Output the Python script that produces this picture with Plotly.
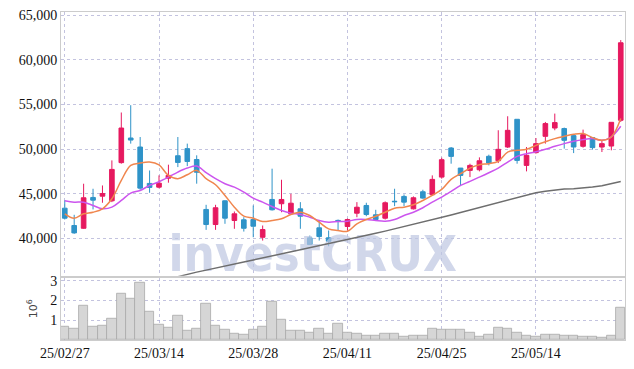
import plotly.graph_objects as go

dates = ["25/02/27", "25/02/28", "25/03/04", "25/03/05", "25/03/06", "25/03/07", "25/03/10", "25/03/11",
         "25/03/12", "25/03/13", "25/03/14", "25/03/17", "25/03/18", "25/03/19", "25/03/20", "25/03/21",
         "25/03/24", "25/03/25", "25/03/26", "25/03/27", "25/03/28", "25/03/31", "25/04/01", "25/04/02",
         "25/04/03", "25/04/04", "25/04/07", "25/04/08", "25/04/09", "25/04/10", "25/04/11", "25/04/14",
         "25/04/15", "25/04/16", "25/04/17", "25/04/18", "25/04/21", "25/04/22", "25/04/23", "25/04/24",
         "25/04/25", "25/04/28", "25/04/29", "25/04/30", "25/05/02", "25/05/07", "25/05/08", "25/05/09",
         "25/05/12", "25/05/13", "25/05/14", "25/05/15", "25/05/16", "25/05/19", "25/05/20", "25/05/21",
         "25/05/22", "25/05/23", "25/05/26", "25/05/27"]

open_ = [43370, 41430, 41120, 44575, 44720, 44200, 48480, 51240, 50230, 46150,
         45730, 46740, 49250, 50050, 48830, 43230, 41540, 44200, 41990, 42070,
         42100, 40110, 44350, 43870, 42740, 43300, 40045, 41170, 40050, 42000,
         41320, 42810, 43675, 42630, 42250, 44150, 44690, 43300, 45215, 44880,
         46860, 50120, 47870, 47610, 47680, 49190, 48690, 50230, 53340, 48170,
         49600, 51430, 52360, 52300, 51510, 50310, 51290, 50230, 50340, 53230]
high = [44240, 42630, 46115, 45550, 45920, 48730, 54100, 54920, 51350, 47600,
        47050, 48250, 51350, 50610, 49300, 43750, 43750, 44240, 43000, 42360,
        43680, 41430, 47800, 46560, 44990, 44050, 40300, 41990, 40870, 42100,
        42210, 44050, 43980, 43190, 44130, 45550, 44910, 44690, 45440, 47050,
        49040, 50230, 47870, 48360, 49070, 49370, 52110, 53680, 53340, 50230,
        51240, 53040, 53980, 52410, 51510, 52180, 51300, 50980, 53000, 62220]
low = [42100, 40500, 41060, 43230, 43980, 44050, 48360, 50610, 45440, 45100,
       45600, 46230, 47980, 48090, 46120, 40940, 40940, 41620, 41060, 40750,
       40110, 39740, 43110, 42920, 42660, 41060, 39250, 39740, 39100, 40870,
       40870, 42360, 42470, 41990, 42100, 43600, 43600, 43230, 44430, 44800,
       46680, 48360, 45850, 46860, 47500, 48170, 48430, 50120, 48360, 47500,
       49490, 50610, 52110, 50050, 49550, 50160, 49940, 49670, 49860, 53040]
close = [42250, 40600, 44540, 44270, 45020, 47720, 52360, 51010, 45620, 45700,
         46180, 47050, 48500, 48610, 47400, 41540, 43420, 42250, 42740, 41120,
         41350, 40980, 43190, 44350, 43930, 42470, 39290, 40190, 39660, 41950,
         42100, 43480, 42660, 42100, 43980, 44100, 44050, 44540, 44500, 46600,
         48810, 49180, 47050, 48170, 48690, 48430, 49970, 52100, 48730, 49300,
         50610, 52860, 52970, 50980, 50230, 51620, 50160, 50610, 53000, 61920]

ma_short = [42743, 42248, 42743, 42922, 43305, 44429, 46485, 48171, 48430, 48542,
            48216, 47047, 46677, 47126, 47609, 46677, 46002, 44799, 43484, 42473,
            42248, 41877, 41989, 42181, 42664, 42922, 42551, 41798, 41057, 40865,
            40787, 41619, 42102, 42473, 42922, 43372, 43484, 43754, 44237, 44799,
            45474, 46598, 47239, 47868, 48250, 48363, 48621, 49666, 49857, 49970,
            50419, 50813, 51173, 51431, 51656, 51735, 51285, 50981, 51352, 53421]
ma_mid = [44204, 44046, 44046, 43675, 43305, 43484, 44237, 45058, 45361, 45923,
          46339, 46856, 47418, 47868, 48093, 47351, 46677, 46115, 45732, 45170,
          44496, 44046, 43563, 43113, 42810, 42664, 42360, 41989, 41798, 41877,
          41911, 42102, 42102, 41989, 41911, 42102, 42551, 42922, 43417, 44046,
          44608, 45249, 45923, 46373, 46856, 47351, 47868, 48542, 49183, 49487,
          49689, 49970, 50307, 50611, 50869, 51060, 51173, 50981, 51375, 52555]
ma_long = [None] * 12 + [
    35695, 35976, 36201, 36426, 36670, 36909, 37133, 37347,
    37561, 37786, 38011, 38235, 38460, 38674, 38898, 39134, 39371, 39607,
    39831, 40079, 40315, 40551, 40798, 41045, 41293, 41540, 41798, 42057,
    42327, 42608, 42889, 43170, 43451, 43732, 44013, 44294, 44575, 44856,
    45103, 45272, 45418, 45519, 45564, 45631, 45744, 45890, 46092, 46373]

volume_m = [0.66, 0.56, 1.74, 0.66, 0.70, 1.10, 2.33, 2.08, 2.92, 1.44,
            0.77, 0.61, 1.25, 0.48, 0.56, 1.84, 0.72, 0.51, 0.31, 0.26,
            0.51, 0.66, 1.93, 1.05, 0.48, 0.48, 0.38, 0.56, 0.33, 0.80,
            0.36, 0.31, 0.21, 0.21, 0.31, 0.31, 0.18, 0.21, 0.21, 0.56,
            0.51, 0.51, 0.51, 0.36, 0.16, 0.26, 0.61, 0.56, 0.36, 0.21,
            0.16, 0.26, 0.26, 0.21, 0.21, 0.16, 0.16, 0.11, 0.21, 1.64]

tick_labels = ["25/02/27", "25/03/14", "25/03/28", "25/04/11", "25/04/25", "25/05/14"]

UP = "#e6195f"
DOWN = "#2f93c8"
FONT = "Liberation Sans Narrow"

fig = go.Figure()

# watermark (behind everything)
fig.add_trace(go.Scatter(
    x=[dates[11]], y=[37750], mode="text", text=["investCRUX"], textposition="middle right",
    textfont=dict(family="DejaVu Sans Condensed, DejaVu Sans", size=49,
                  color="rgba(190,198,225,0.7)", weight="bold"),
    hoverinfo="skip", showlegend=False, xaxis="x", yaxis="y"))

fig.add_trace(go.Candlestick(
    x=dates, open=open_, high=high, low=low, close=close,
    increasing=dict(line=dict(color=UP, width=1), fillcolor=UP),
    decreasing=dict(line=dict(color=DOWN, width=1), fillcolor=DOWN),
    whiskerwidth=0, showlegend=False, xaxis="x", yaxis="y"))

fig.add_trace(go.Scatter(x=dates, y=ma_long, mode="lines",
                         line=dict(color="#6e6e6e", width=1.5), showlegend=False,
                         xaxis="x", yaxis="y"))
fig.add_trace(go.Scatter(x=dates, y=ma_mid, mode="lines",
                         line=dict(color="#cc55ee", width=1.5, shape="spline"), showlegend=False,
                         xaxis="x", yaxis="y"))
fig.add_trace(go.Scatter(x=dates, y=ma_short, mode="lines",
                         line=dict(color="#f0864e", width=1.5, shape="spline"), showlegend=False,
                         xaxis="x", yaxis="y"))

fig.add_trace(go.Bar(x=dates, y=volume_m, marker=dict(color="#d6d6d6", line=dict(color="#a8a8a8", width=0.8)),
                     width=1, showlegend=False, xaxis="x2", yaxis="y2"))

grid = "rgba(180,180,215,0.8)"
axis_font = dict(family=FONT, size=14, color="#111111")

# the page body adds an 8px offset, so the figure is 8px smaller on the right/bottom
fig.update_layout(
    width=626, height=361,
    margin=dict(l=53, r=9, t=4, b=29, autoexpand=False),
    paper_bgcolor="white", plot_bgcolor="white",
    showlegend=False,
    xaxis=dict(type="category", categoryorder="array", categoryarray=dates,
               range=[-0.4, 59.45], anchor="y", matches="x2",
               showticklabels=False, tickvals=tick_labels,
               showgrid=True, gridcolor=grid, griddash="dot", gridwidth=1,
               showline=True, linecolor="#cccccc", mirror=True,
               rangeslider=dict(visible=False), ticks=""),
    yaxis=dict(domain=[0.196, 1], range=[35800, 65370], anchor="x",
               tickvals=[40000, 45000, 50000, 55000, 60000, 65000], tickformat=",d",
               showgrid=True, gridcolor=grid, griddash="dot", gridwidth=1,
               showline=True, linecolor="#cccccc", mirror=True,
               tickfont=axis_font, ticks="", zeroline=False, ticklabeloverflow="allow"),
    xaxis2=dict(type="category", categoryorder="array", categoryarray=dates,
                range=[-0.4, 59.45], anchor="y2",
                tickvals=tick_labels, ticktext=tick_labels,
                showgrid=True, gridcolor=grid, griddash="dot", gridwidth=1,
                showline=True, linecolor="#cccccc", mirror=True,
                tickfont=axis_font, ticks="", tickangle=0, ticklabeloverflow="allow"),
    yaxis2=dict(domain=[0, 0.19], range=[0, 3.15], anchor="x2",
                tickvals=[1, 2, 3], ticktext=["1", "2", "3"],
                showgrid=True, gridcolor=grid, griddash="dot", gridwidth=1,
                showline=True, linecolor="#cccccc", mirror=True,
                tickfont=axis_font, ticks="", zeroline=False, ticklabeloverflow="allow",
                title=dict(text="10<sup>6</sup>", font=dict(family="DejaVu Sans", size=11, color="#444444"),
                           standoff=10)),
    bargap=0,
)

fig.write_html("out.html")
